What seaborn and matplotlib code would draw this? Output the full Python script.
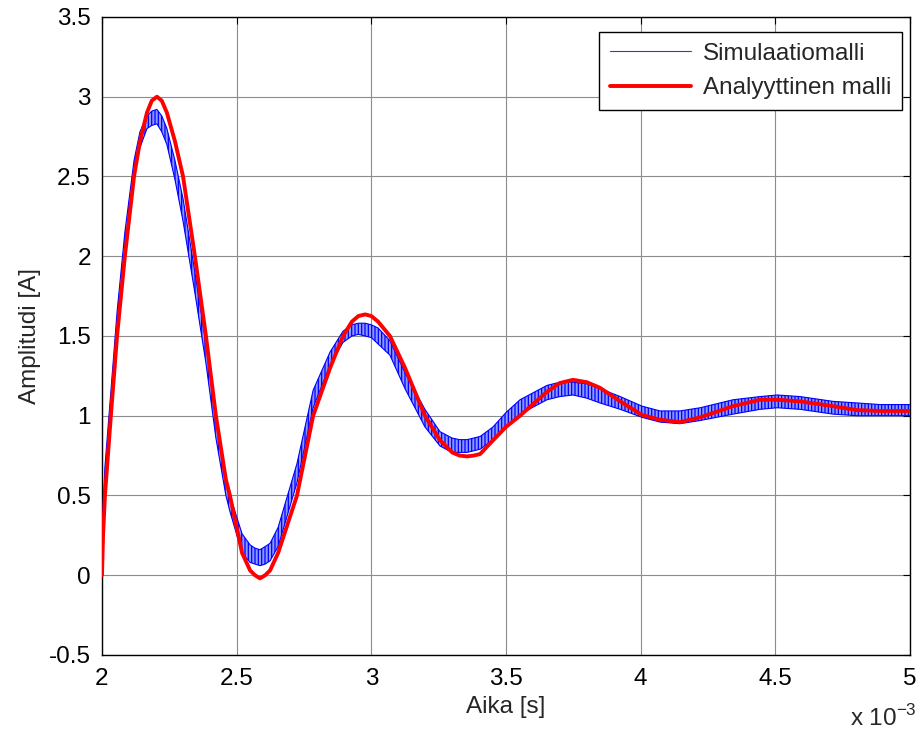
import matplotlib
matplotlib.use("Agg")
import matplotlib.pyplot as plt
import seaborn as sns
from matplotlib.ticker import FormatStrFormatter

# aika (x 10^-3 s) ja analyyttinen malli, luettu kuvasta
t_ana = [2.000, 2.004, 2.011, 2.033, 2.056, 2.085, 2.119, 2.141, 2.167, 2.185,
         2.204, 2.222, 2.241, 2.271, 2.301, 2.345, 2.386, 2.423, 2.460, 2.475,
         2.520, 2.550, 2.568, 2.587, 2.606, 2.624, 2.654, 2.724, 2.784, 2.847,
         2.895, 2.928, 2.952, 2.977, 3.000, 3.025, 3.069, 3.125, 3.199, 3.255,
         3.300, 3.328, 3.355, 3.380, 3.404, 3.452, 3.500, 3.552, 3.652, 3.700,
         3.749, 3.800, 3.849, 3.924, 4.005, 4.072, 4.146, 4.221, 4.343, 4.443,
         4.507, 4.592, 4.714, 4.804, 4.889, 5.000]
amp_ana = [0.00, 0.25, 0.50, 1.00, 1.50, 2.00, 2.50, 2.72, 2.90, 2.975,
           3.00, 2.975, 2.90, 2.72, 2.50, 2.00, 1.50, 1.00, 0.60, 0.50,
           0.14, 0.03, 0.00, -0.02, 0.00, 0.03, 0.14, 0.50, 1.00, 1.30,
           1.50, 1.59, 1.625, 1.635, 1.625, 1.59, 1.50, 1.30, 1.00, 0.846,
           0.77, 0.75, 0.745, 0.75, 0.76, 0.846, 0.93, 1.00, 1.15, 1.205,
           1.225, 1.21, 1.175, 1.09, 1.005, 0.975, 0.96, 0.99, 1.06, 1.10,
           1.10, 1.09, 1.06, 1.035, 1.03, 1.03]

# simulaatiomallin aaltoilun ala- ja ylareuna samoissa ajanhetkissa
sim_lo = [0.00, 0.28, 0.55, 1.05, 1.55, 2.05, 2.50, 2.68, 2.80, 2.82,
          2.83, 2.78, 2.70, 2.48, 2.22, 1.77, 1.33, 0.86, 0.50, 0.40,
          0.14, 0.08, 0.07, 0.06, 0.07, 0.09, 0.18, 0.58, 1.05, 1.32,
          1.46, 1.50, 1.51, 1.50, 1.49, 1.45, 1.38, 1.17, 0.93, 0.81,
          0.77, 0.77, 0.77, 0.78, 0.79, 0.85, 0.93, 1.01, 1.10, 1.12,
          1.13, 1.11, 1.08, 1.04, 0.99, 0.96, 0.95, 0.97, 1.01, 1.04,
          1.05, 1.04, 1.01, 1.00, 1.00, 1.00]
sim_hi = [0.05, 0.42, 0.68, 1.15, 1.65, 2.15, 2.60, 2.78, 2.88, 2.91,
          2.92, 2.88, 2.80, 2.60, 2.36, 1.90, 1.45, 0.98, 0.60, 0.50,
          0.26, 0.19, 0.17, 0.16, 0.18, 0.20, 0.30, 0.70, 1.16, 1.40,
          1.53, 1.57, 1.58, 1.58, 1.57, 1.55, 1.47, 1.27, 1.04, 0.90,
          0.86, 0.85, 0.85, 0.86, 0.87, 0.93, 1.02, 1.10, 1.19, 1.21,
          1.21, 1.20, 1.17, 1.12, 1.06, 1.03, 1.03, 1.05, 1.10, 1.12,
          1.13, 1.12, 1.09, 1.08, 1.07, 1.07]

x_ticks = [2, 2.5, 3, 3.5, 4, 4.5, 5]
y_ticks = [-0.5, 0, 0.5, 1, 1.5, 2, 2.5, 3, 3.5]

sns.set_style("white")
plt.rcParams['font.family'] = ['Liberation Sans', 'DejaVu Sans']
plt.rcParams['mathtext.fontset'] = 'custom'
plt.rcParams['mathtext.rm'] = 'Liberation Sans'
plt.rcParams['hatch.linewidth'] = 0.9

fs = 17.5
fig = plt.figure(figsize=(9.22, 7.31), dpi=100)
ax = fig.add_axes([0.1106, 0.104, 0.8764, 0.8728])

# simulaatio: sininen aaltoileva kaista
ax.fill_between(t_ana, sim_lo, sim_hi, facecolor='#8c98ff', edgecolor='#0000ff',
                hatch='|||||', linewidth=0, zorder=2)
sns.lineplot(x=t_ana, y=sim_lo, ax=ax, color='#0000ff', lw=0.8, sort=False,
             estimator=None, label='Simulaatiomalli', zorder=3)
sns.lineplot(x=t_ana, y=sim_hi, ax=ax, color='#0000ff', lw=0.8, sort=False,
             estimator=None, label='_nolegend_', zorder=3)
# analyyttinen malli
sns.lineplot(x=t_ana, y=amp_ana, ax=ax, color='#ff0000', lw=2.8, sort=False,
             estimator=None, label='Analyyttinen malli', zorder=4)

ax.set_xlim(2, 5)
ax.set_ylim(-0.5, 3.5)
ax.set_xticks(x_ticks)
ax.set_yticks(y_ticks)
ax.xaxis.set_major_formatter(FormatStrFormatter('%g'))
ax.yaxis.set_major_formatter(FormatStrFormatter('%g'))
ax.tick_params(direction='in', length=5, width=0.8, top=True, right=True,
               labelsize=fs, colors='black')
ax.tick_params(axis='x', pad=9.5)
ax.tick_params(axis='y', pad=8)
ax.grid(True, color='#8c8c8c', lw=0.8)
for s in ax.spines.values():
    s.set_color('black')
    s.set_linewidth(1.0)

ax.set_xlabel('Aika [s]', fontsize=fs, labelpad=4)
ax.set_ylabel('Amplitudi [A]', fontsize=fs, labelpad=6)
fig.text(0.922, 0.018, r'x 10$^{-3}$', fontsize=fs, ha='left', va='center')

leg = ax.legend(loc='upper right', bbox_to_anchor=(0.9783, 0.9562),
                bbox_transform=fig.transFigure, fancybox=False, framealpha=1,
                edgecolor='black', fontsize=fs, handlelength=3.3,
                handletextpad=0.5, labelspacing=0.5, borderpad=0.45,
                borderaxespad=0)
leg.get_frame().set_linewidth(1.0)
leg.get_lines()[0].set_color('#3030ff')

fig.savefig('out.png', dpi=100)
